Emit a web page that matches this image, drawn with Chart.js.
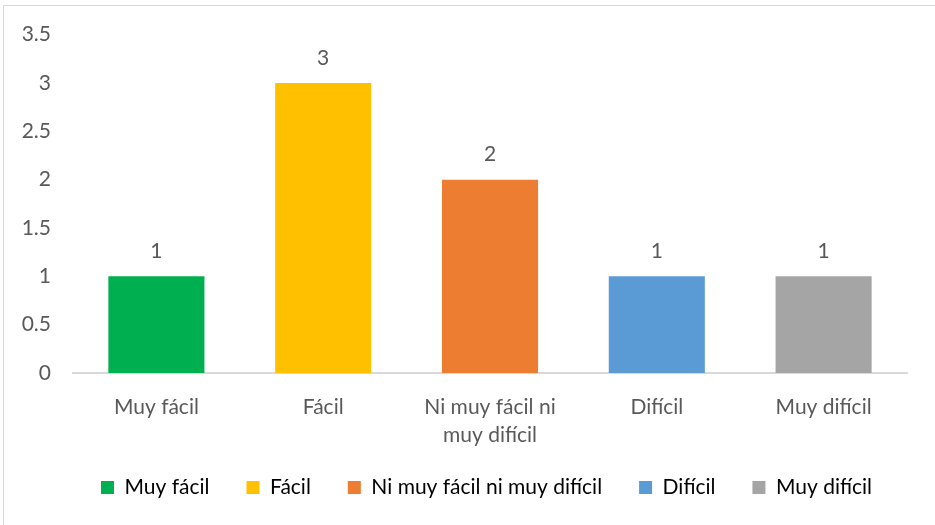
<!DOCTYPE html>
<html>
<head>
<meta charset="utf-8">
<script src="https://cdn.jsdelivr.net/npm/chart.js@4.4.0/dist/chart.umd.min.js"></script>
<style>
  html, body { margin: 0; padding: 0; background: #fff; overflow: hidden; }
  #frame { position: absolute; left: 3px; top: 5px; width: 940px; height: 530px; border: 1px solid #d9d9d9; box-sizing: border-box; }
  #wrap { position: absolute; left: 0; top: 0; width: 935px; height: 525px; }
</style>
</head>
<body>
<div id="frame"></div>
<div id="wrap"><canvas id="myChart" width="935" height="525"></canvas></div>
<script>
const categories = ['Muy fácil', 'Fácil', ['Ni muy fácil ni', 'muy difícil'], 'Difícil', 'Muy difícil'];
const legendNames = ['Muy fácil', 'Fácil', 'Ni muy fácil ni muy difícil', 'Difícil', 'Muy difícil'];
const values = [1, 3, 2, 1, 1];
const colors = ['#00B050', '#FFC000', '#ED7D31', '#5B9BD5', '#A5A5A5'];
const yTicks = [0, 0.5, 1, 1.5, 2, 2.5, 3, 3.5];

const textColor = '#595959';
const fontFamily = 'Lato, "Open Sans", sans-serif';

// values written above each bar
const barLabels = {
  id: 'barLabels',
  afterLayout(chart) {
    // legend sits a little right of centre and a bit higher in the original
    chart.legend.left += 33;
    chart.legend.right += 33;
    chart.legend.top -= 7;
    chart.legend.bottom -= 7;
  },
  afterDatasetsDraw(chart) {
    const ctx = chart.ctx;
    const meta = chart.getDatasetMeta(0);
    ctx.save();
    ctx.font = '21px ' + fontFamily;
    ctx.fillStyle = textColor;
    ctx.textAlign = 'center';
    ctx.textBaseline = 'middle';
    meta.data.forEach((bar, i) => {
      ctx.fillText(String(values[i]), bar.x, bar.y - 25);
    });
    ctx.restore();
  }
};

const data = {
  labels: categories,
  datasets: [{
    label: 'Serie',
    data: values,
    backgroundColor: colors,
    borderWidth: 0,
    barPercentage: 0.576,
    categoryPercentage: 1
  }]
};

const config = {
  type: 'bar',
  data: data,
  plugins: [barLabels],
  options: {
    responsive: false,
    animation: false,
    layout: { padding: { left: 0, right: 28, top: 34, bottom: 10 } },
    scales: {
      x: {
        grid: { display: false, drawTicks: false },
        border: { display: true, color: '#d9d9d9', width: 2 },
        ticks: {
          color: textColor,
          font: { family: fontFamily, size: 21, lineHeight: 1.35 },
          padding: 20,
          maxRotation: 0,
          autoSkip: false
        },
        afterFit(scale) { scale.height = 74; }
      },
      y: {
        min: 0,
        max: 3.5,
        afterBuildTicks(scale) { scale.ticks = yTicks.map(v => ({ value: v })); },
        grid: { display: false, drawTicks: false },
        border: { display: false },
        ticks: {
          color: textColor,
          font: { family: fontFamily, size: 21 },
          padding: 22,
          callback: v => String(v)
        },
        afterFit(scale) { scale.width = 73; }
      }
    },
    plugins: {
      tooltip: { enabled: false },
      legend: {
        position: 'bottom',
        labels: {
          color: textColor,
          font: { family: fontFamily, size: 21 },
          boxWidth: 13,
          boxHeight: 13,
          padding: 37,
          generateLabels() {
            return legendNames.map((name, i) => ({
              text: name,
              fillStyle: colors[i],
              strokeStyle: colors[i],
              lineWidth: 0,
              hidden: false,
              index: i
            }));
          }
        }
      }
    }
  }
};

const ctx = document.getElementById('myChart');
const myChart = new Chart(ctx, config);
</script>
</body>
</html>
